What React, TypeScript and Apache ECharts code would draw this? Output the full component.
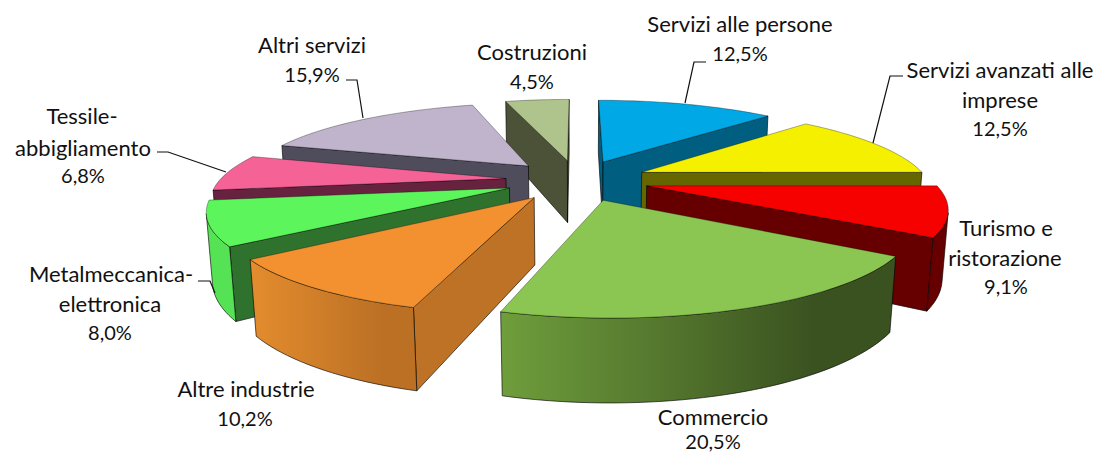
import React, { useEffect, useRef } from "react";
import * as echarts from "echarts";

const categories = ["Servizi alle persone", "Servizi avanzati alle imprese", "Turismo e ristorazione", "Commercio", "Altre industrie", "Metalmeccanica-elettronica", "Tessile-abbigliamento", "Altri servizi", "Costruzioni"];
const values = [12.5, 12.5, 9.1, 20.5, 10.2, 8.0, 6.8, 15.9, 4.5];

const topColors = ["#00A8E6", "#F5F000", "#F60000", "#8AC651", "#F39130", "#5CF65C", "#F56296", "#BFB4CC", "#AFC48C"];
const wallColors = ["#005F80", "#666600", "#660000", "#3F5A24", "#BD7225", "#2E722E", "#66223F", "#4F4C5C", "#4B5238"];
const rimFrom = ["#005F80", "#666600", "#660000", "#6F9E3C", "#E48C2E", "#55E255", "#66223F", "#4F4C5C", "#4B5238"];
const rimTo = ["#005F80", "#666600", "#660000", "#3A5120", "#BB7024", "#55E255", "#66223F", "#4F4C5C", "#4B5238"];

// Projection of the 3D pie
const CX = 577, CY = 180, A = 286, B = 82, K = 0.216, E = 0.25, H = 0.24, C = 274, M = 0.065;
const project = (X: number, V: number, h: number) => {
  const q = 1 - K * V + M * h;
  return [CX + (A * X) / q, CY + (B * V + C * h) / q];
};
const total = values.reduce((a, b) => a + b, 0);
const ranges = values.map((v, i) => {
  const before = values.slice(0, i).reduce((a, b) => a + b, 0);
  return [(before / total) * Math.PI * 2, ((before + v) / total) * Math.PI * 2];
});
const depthRank = (() => {
  const ds = ranges.map((r) => -Math.cos((r[0] + r[1]) / 2));
  const order = ds.map((d, i) => [d, i]).sort((a, b) => a[0] - b[0]).map((p) => p[1]);
  return ds.map((_, i) => order.indexOf(i));
})();

const signedArea = (pts: number[][]) => {
  let a = 0;
  pts.forEach((p, i) => {
    const n = pts[(i + 1) % pts.length];
    a += p[0] * n[1] - n[0] * p[1];
  });
  return a / 2;
};

const renderSlice = (params: any) => {
  const i = params.dataIndex;
  const [t0, t1] = ranges[i];
  const mid = (t0 + t1) / 2;
  const ox = E * Math.sin(mid), ov = -E * Math.cos(mid);
  const world = (t: number) => [ox + Math.sin(t), ov - Math.cos(t)];
  const steps = Math.max(6, Math.round((t1 - t0) / 0.03));
  const angles = Array.from({ length: steps + 1 }, (_, s) => t0 + ((t1 - t0) * s) / steps);
  const line = { stroke: "rgba(0,0,0,0.7)", lineWidth: 0.9, lineJoin: "round" };
  const children: any[] = [];
  const apexT = project(ox, ov, 0), apexB = project(ox, ov, H);
  const radial = (t: number, sign: number) => {
    const w = world(t);
    const pts = [apexT, project(w[0], w[1], 0), project(w[0], w[1], H), apexB];
    if (signedArea(pts) * sign < 0) {
      children.push({ type: "polygon", shape: { points: pts }, style: { fill: wallColors[i], ...line } });
    }
  };
  radial(t0, 1);
  radial(t1, -1);
  // outer wall: keep only the part facing the viewer
  const seen: number[] = [];
  for (let s = 0; s < steps; s++) {
    const a = world(angles[s]), b = world(angles[s + 1]);
    const quad = [project(a[0], a[1], 0), project(b[0], b[1], 0), project(b[0], b[1], H), project(a[0], a[1], H)];
    if (signedArea(quad) < 0) {
      if (!seen.length || seen[seen.length - 1] !== s) seen.push(s);
      seen.push(s + 1);
    }
  }
  if (seen.length > 1) {
    const top = seen.map((s) => { const w = world(angles[s]); return project(w[0], w[1], 0); });
    const bottom = seen.map((s) => { const w = world(angles[s]); return project(w[0], w[1], H); }).reverse();
    children.push({
      type: "polygon",
      shape: { points: [...top, ...bottom] },
      style: {
        fill: new echarts.graphic.LinearGradient(0, 0, 1, 0, [
          { offset: 0, color: rimFrom[i] },
          { offset: 0.8, color: rimTo[i] },
          { offset: 1, color: rimTo[i] },
        ]),
        ...line,
      },
    });
  }
  const topPts = [apexT, ...angles.map((t) => { const w = world(t); return project(w[0], w[1], 0); })];
  children.push({ type: "polygon", shape: { points: topPts }, style: { fill: topColors[i], stroke: "rgba(0,0,0,0.45)", lineWidth: 0.7, lineJoin: "round" } });
  return { type: "group", z2: depthRank[i], children: children.map((c) => ({ ...c, z2: depthRank[i] })) };
};

const pct = (v: number) => v.toFixed(1).replace(".", ",") + "%";
const wordLines: [string, number, number][] = [
  ["Servizi alle persone", 740, 23],
  ["Servizi avanzati alle", 1000, 69], ["imprese", 1000, 99],
  ["Turismo e", 1006, 227], ["ristorazione", 1005, 257],
  ["Commercio", 713, 416],
  ["Altre industrie", 246, 388],
  ["Metalmeccanica-", 111, 273], ["elettronica", 110, 303],
  ["Tessile-", 82, 115], ["abbigliamento", 83, 147],
  ["Altri servizi", 312, 44],
  ["Costruzioni", 532, 51],
];
const percentLines: [string, number, number][] = [
  [pct(values[0]), 740, 53], [pct(values[1]), 1000, 128], [pct(values[2]), 1006, 286],
  [pct(values[3]), 713, 441], [pct(values[4]), 245, 418], [pct(values[5]), 110, 332],
  [pct(values[6]), 83, 175], [pct(values[7]), 312, 74], [pct(values[8]), 532, 81],
];
const leaders: number[][][] = [
  [[706, 62], [694, 62], [685, 103]],
  [[903, 76], [890, 76], [873, 143]],
  [[346, 80], [357, 80], [363, 118]],
  [[157, 152], [168, 152], [226, 172]],
  [[198, 281], [210, 281], [215, 293]],
];

const textEl = (text: string, x: number, y: number, size: number) => ({
  type: "text", z: 6, x, y,
  style: { text, fill: "#111", font: `${size}px Lato`, textAlign: "center", textVerticalAlign: "middle" },
});

export default function App() {
  const ref = useRef<HTMLDivElement>(null);
  useEffect(() => {
    document.body.style.margin = "0";
    const chart = echarts.init(ref.current!, null, { renderer: "svg" });
    chart.setOption({
      animation: false,
      backgroundColor: "#ffffff",
      series: [{
        type: "custom",
        coordinateSystem: "none",
        data: values.map((v, i) => ({ name: categories[i], value: v })),
        renderItem: renderSlice,
        clip: false,
      }],
      graphic: [
        ...leaders.map((pts) => ({ type: "polyline", z: 5, shape: { points: pts }, style: { stroke: "#111", lineWidth: 1.2, fill: "none" } })),
        ...wordLines.map(([t, x, y]) => textEl(t, x, y, 22)),
        ...percentLines.map(([t, x, y]) => textEl(t, x, y, 20)),
      ],
    });
    return () => chart.dispose();
  }, []);
  return <div ref={ref} style={{ position: "absolute", left: 0, top: 0, width: 1098, height: 454 }} />;
}
